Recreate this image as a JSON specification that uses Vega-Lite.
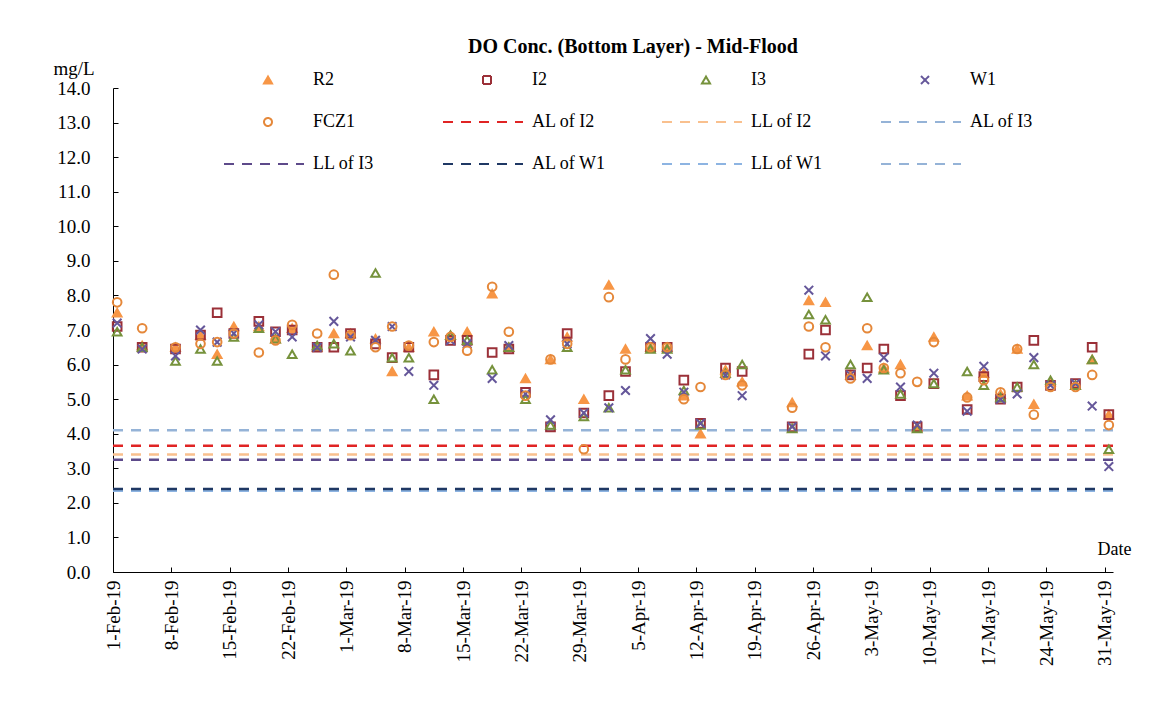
{
  "$schema": "https://vega.github.io/schema/vega-lite/v6.json",
  "width": 1000,
  "height": 484,
  "autosize": {"type": "none"},
  "padding": {"left": 113, "top": 88, "right": 44, "bottom": 154},
  "background": "white",
  "title": {"text": "DO Conc. (Bottom Layer) - Mid-Flood", "font": "Liberation Serif", "fontSize": 20, "fontWeight": "bold", "color": "black", "anchor": "middle", "dx": 20, "dy": 2},
  "config": {
    "view": {"stroke": null},
    "font": "Liberation Serif",
    "legend": {
      "orient": "none", "legendX": 146, "legendY": -17, "columns": 4, "direction": "horizontal", "gridAlign": "all",
      "symbolSize": 64, "symbolStrokeWidth": 2, "labelOffset": 36, "rowPadding": 24, "columnPadding": 52,
      "labelFont": "Liberation Serif", "labelFontSize": 18, "labelColor": "black", "labelLimit": 200
    },
    "axisY": {"values": [0,1,2,3,4,5,6,7,8,9,10,11,12,13,14], "format": ".1f", "grid": false, "labelOverlap": false,
      "domainColor": "black", "tickColor": "black", "tickSize": -5, "labelPadding": 28,
      "labelFont": "Liberation Serif", "labelFontSize": 19, "labelColor": "black",
      "titleAngle": 0, "titleAlign": "left", "titleBaseline": "alphabetic",
      "titleX": -60, "titleY": -14, "titleFont": "Liberation Serif", "titleFontSize": 19, "titleFontWeight": "normal", "titleColor": "black"}
  },
  "datasets": {
    "points": [
      {"date": "2019-02-01", "R2": 7.5, "I2": 7.1, "I3": 6.95, "W1": 7.2, "FCZ1": 7.8},
      {"date": "2019-02-04", "R2": 6.55, "I2": 6.5, "I3": 6.5, "W1": 6.45, "FCZ1": 7.05},
      {"date": "2019-02-08", "R2": 6.5, "I2": 6.45, "I3": 6.1, "W1": 6.25, "FCZ1": 6.5},
      {"date": "2019-02-11", "R2": 6.85, "I2": 6.85, "I3": 6.45, "W1": 7.0, "FCZ1": 6.6},
      {"date": "2019-02-13", "R2": 6.3, "I2": 7.5, "I3": 6.1, "W1": 6.65, "FCZ1": 6.65},
      {"date": "2019-02-15", "R2": 7.1, "I2": 6.9, "I3": 6.8, "W1": 6.9, "FCZ1": 6.9},
      {"date": "2019-02-18", "R2": 7.1, "I2": 7.25, "I3": 7.05, "W1": 7.15, "FCZ1": 6.35},
      {"date": "2019-02-20", "R2": 6.75, "I2": 6.95, "I3": 6.75, "W1": 6.95, "FCZ1": 6.7},
      {"date": "2019-02-22", "R2": 7.05, "I2": 7.0, "I3": 6.3, "W1": 6.8, "FCZ1": 7.15},
      {"date": "2019-02-25", "R2": 6.5, "I2": 6.5, "I3": 6.55, "W1": 6.5, "FCZ1": 6.9},
      {"date": "2019-02-27", "R2": 6.9, "I2": 6.5, "I3": 6.6, "W1": 7.25, "FCZ1": 8.6},
      {"date": "2019-03-01", "R2": 6.9, "I2": 6.9, "I3": 6.4, "W1": 6.8, "FCZ1": 6.85},
      {"date": "2019-03-04", "R2": 6.75, "I2": 6.6, "I3": 8.65, "W1": 6.7, "FCZ1": 6.5},
      {"date": "2019-03-06", "R2": 5.8, "I2": 6.2, "I3": 6.2, "W1": 7.1, "FCZ1": 7.1},
      {"date": "2019-03-08", "R2": 6.5, "I2": 6.5, "I3": 6.2, "W1": 5.8, "FCZ1": 6.55},
      {"date": "2019-03-11", "R2": 6.95, "I2": 5.7, "I3": 5.0, "W1": 5.4, "FCZ1": 6.65},
      {"date": "2019-03-13", "R2": 6.85, "I2": 6.7, "I3": 6.85, "W1": 6.7, "FCZ1": 6.8},
      {"date": "2019-03-15", "R2": 6.95, "I2": 6.7, "I3": 6.7, "W1": 6.6, "FCZ1": 6.4},
      {"date": "2019-03-18", "R2": 8.05, "I2": 6.35, "I3": 5.85, "W1": 5.6, "FCZ1": 8.25},
      {"date": "2019-03-20", "R2": 6.5, "I2": 6.45, "I3": 6.5, "W1": 6.55, "FCZ1": 6.95},
      {"date": "2019-03-22", "R2": 5.6, "I2": 5.2, "I3": 5.0, "W1": 5.15, "FCZ1": 5.1},
      {"date": "2019-03-25", "R2": 6.15, "I2": 4.2, "I3": 4.25, "W1": 4.4, "FCZ1": 6.15},
      {"date": "2019-03-27", "R2": 6.8, "I2": 6.9, "I3": 6.5, "W1": 6.6, "FCZ1": 6.6},
      {"date": "2019-03-29", "R2": 5.0, "I2": 4.6, "I3": 4.5, "W1": 4.6, "FCZ1": 3.55},
      {"date": "2019-04-01", "R2": 8.3, "I2": 5.1, "I3": 4.75, "W1": 4.75, "FCZ1": 7.95},
      {"date": "2019-04-03", "R2": 6.45, "I2": 5.8, "I3": 5.85, "W1": 5.25, "FCZ1": 6.15},
      {"date": "2019-04-06", "R2": 6.5, "I2": 6.5, "I3": 6.45, "W1": 6.75, "FCZ1": 6.5},
      {"date": "2019-04-08", "R2": 6.5, "I2": 6.5, "I3": 6.45, "W1": 6.3, "FCZ1": 6.5},
      {"date": "2019-04-10", "R2": 5.1, "I2": 5.55, "I3": 5.25, "W1": 5.2, "FCZ1": 5.0},
      {"date": "2019-04-12", "R2": 4.0, "I2": 4.3, "I3": 4.25, "W1": 4.3, "FCZ1": 5.35},
      {"date": "2019-04-15", "R2": 5.85, "I2": 5.9, "I3": 5.75, "W1": 5.7, "FCZ1": 5.7},
      {"date": "2019-04-17", "R2": 5.5, "I2": 5.8, "I3": 6.0, "W1": 5.1, "FCZ1": 5.4},
      {"date": "2019-04-23", "R2": 4.9, "I2": 4.2, "I3": 4.15, "W1": 4.2, "FCZ1": 4.75},
      {"date": "2019-04-25", "R2": 7.85, "I2": 6.3, "I3": 7.45, "W1": 8.15, "FCZ1": 7.1},
      {"date": "2019-04-27", "R2": 7.8, "I2": 7.0, "I3": 7.3, "W1": 6.25, "FCZ1": 6.5},
      {"date": "2019-04-30", "R2": 5.7, "I2": 5.7, "I3": 6.0, "W1": 5.7, "FCZ1": 5.6},
      {"date": "2019-05-02", "R2": 6.55, "I2": 5.9, "I3": 7.95, "W1": 5.6, "FCZ1": 7.05},
      {"date": "2019-05-04", "R2": 5.9, "I2": 6.45, "I3": 5.85, "W1": 6.2, "FCZ1": 5.9},
      {"date": "2019-05-06", "R2": 6.0, "I2": 5.1, "I3": 5.15, "W1": 5.35, "FCZ1": 5.75},
      {"date": "2019-05-08", "R2": 4.2, "I2": 4.2, "I3": 4.15, "W1": 4.25, "FCZ1": 5.5},
      {"date": "2019-05-10", "R2": 6.8, "I2": 5.45, "I3": 5.45, "W1": 5.75, "FCZ1": 6.65},
      {"date": "2019-05-14", "R2": 5.1, "I2": 4.7, "I3": 5.8, "W1": 4.65, "FCZ1": 5.05},
      {"date": "2019-05-16", "R2": 5.75, "I2": 5.65, "I3": 5.4, "W1": 5.95, "FCZ1": 5.55},
      {"date": "2019-05-18", "R2": 5.15, "I2": 5.0, "I3": 5.05, "W1": 5.0, "FCZ1": 5.2},
      {"date": "2019-05-20", "R2": 6.45, "I2": 5.35, "I3": 5.35, "W1": 5.15, "FCZ1": 6.45},
      {"date": "2019-05-22", "R2": 4.85, "I2": 6.7, "I3": 6.0, "W1": 6.2, "FCZ1": 4.55},
      {"date": "2019-05-24", "R2": 5.5, "I2": 5.4, "I3": 5.55, "W1": 5.4, "FCZ1": 5.35},
      {"date": "2019-05-27", "R2": 5.4, "I2": 5.45, "I3": 5.4, "W1": 5.45, "FCZ1": 5.35},
      {"date": "2019-05-29", "R2": 6.15, "I2": 6.5, "I3": 6.15, "W1": 4.8, "FCZ1": 5.7},
      {"date": "2019-05-31", "R2": 4.55, "I2": 4.55, "I3": 3.55, "W1": 3.05, "FCZ1": 4.25}
    ],
    "limits": [
      {"series": "LL of W1", "value": 2.35},
      {"series": "AL of W1", "value": 2.4},
      {"series": "LL of I3", "value": 3.25},
      {"series": "LL of I2", "value": 3.4},
      {"series": "AL of I2", "value": 3.65},
      {"series": "AL of I3", "value": 4.1}
    ]
  },
  "layer": [
    {
      "data": {"name": "limits"},
      "mark": {"type": "rule", "strokeWidth": 2.5},
      "encoding": {
        "y": {"field": "value", "type": "quantitative", "scale": {"domain": [0, 14], "nice": false},
          "axis": {"title": "mg/L", "values": [0,1,2,3,4,5,6,7,8,9,10,11,12,13,14], "labelOverlap": false}},
        "stroke": {"field": "series", "type": "nominal", "legend": {"title": null},
          "scale": {"domain": ["R2", "I2", "I3", "W1", "FCZ1", "AL of I2", "LL of I2", "AL of I3", "LL of I3", "AL of W1", "LL of W1", " "],
            "range": ["#F79646", "#9B3038", "#76923C", "#65579A", "#E5883A", "#E02424", "#F9C08E", "#95B3D7", "#5D4A8A", "#1F3864", "#8DB4E2", "#95B3D7"]}},
        "strokeDash": {"field": "series", "type": "nominal", "legend": {"title": null},
          "scale": {"domain": ["R2", "I2", "I3", "W1", "FCZ1", "AL of I2", "LL of I2", "AL of I3", "LL of I3", "AL of W1", "LL of W1", " "],
            "range": [[1,0],[1,0],[1,0],[1,0],[1,0],[10,8],[10,8],[10,8],[10,8],[10,8],[10,8],[10,8]]}}
      }
    },
    {
      "data": {"name": "points"},
      "transform": [{"fold": ["R2", "I2", "I3", "W1", "FCZ1"], "as": ["series", "value"]}],
      "mark": {"type": "point", "size": 75, "strokeWidth": 2, "opacity": 1},
      "encoding": {
        "x": {"field": "date", "type": "temporal", "timeUnit": "utcyearmonthdate", "bandPosition": 0.5,
          "scale": {"domain": [{"year": 2019, "month": 2, "date": 1, "utc": true}, {"year": 2019, "month": 6, "date": 1, "utc": true}], "nice": false},
          "axis": {"values": [
              {"year": 2019, "month": 2, "date": 1, "utc": true}, {"year": 2019, "month": 2, "date": 8, "utc": true},
              {"year": 2019, "month": 2, "date": 15, "utc": true}, {"year": 2019, "month": 2, "date": 22, "utc": true},
              {"year": 2019, "month": 3, "date": 1, "utc": true}, {"year": 2019, "month": 3, "date": 8, "utc": true},
              {"year": 2019, "month": 3, "date": 15, "utc": true}, {"year": 2019, "month": 3, "date": 22, "utc": true},
              {"year": 2019, "month": 3, "date": 29, "utc": true}, {"year": 2019, "month": 4, "date": 5, "utc": true},
              {"year": 2019, "month": 4, "date": 12, "utc": true}, {"year": 2019, "month": 4, "date": 19, "utc": true},
              {"year": 2019, "month": 4, "date": 26, "utc": true}, {"year": 2019, "month": 5, "date": 3, "utc": true},
              {"year": 2019, "month": 5, "date": 10, "utc": true}, {"year": 2019, "month": 5, "date": 17, "utc": true},
              {"year": 2019, "month": 5, "date": 24, "utc": true}, {"year": 2019, "month": 5, "date": 31, "utc": true}],
            "labelExpr": "utcFormat(datum.value, '%-d-%b-%y')", "labelAngle": -90, "grid": false, "labelOverlap": false,
            "domainColor": "black", "tickColor": "black", "tickSize": -5, "labelPadding": 13,
            "labelFont": "Liberation Serif", "labelFontSize": 19, "labelColor": "black",
            "title": "Date", "titleAlign": "left", "titleBaseline": "alphabetic", "titleX": 984, "titleY": -18,
            "titleFont": "Liberation Serif", "titleFontSize": 18, "titleFontWeight": "normal", "titleColor": "black"}},
        "y": {"field": "value", "type": "quantitative", "axis": {"title": "mg/L", "values": [0,1,2,3,4,5,6,7,8,9,10,11,12,13,14], "labelOverlap": false}},
        "stroke": {"field": "series", "type": "nominal", "legend": {"title": null},
          "scale": {"domain": ["R2", "I2", "I3", "W1", "FCZ1", "AL of I2", "LL of I2", "AL of I3", "LL of I3", "AL of W1", "LL of W1", " "],
            "range": ["#F79646", "#9B3038", "#76923C", "#65579A", "#E5883A", "#E02424", "#F9C08E", "#95B3D7", "#5D4A8A", "#1F3864", "#8DB4E2", "#95B3D7"]}},
        "fill": {"field": "series", "type": "nominal", "legend": {"title": null},
          "scale": {"domain": ["R2", "I2", "I3", "W1", "FCZ1", "AL of I2", "LL of I2", "AL of I3", "LL of I3", "AL of W1", "LL of W1", " "],
            "range": ["#F79646", "transparent", "transparent", "transparent", "transparent", "transparent", "transparent", "transparent", "transparent", "transparent", "transparent", "transparent"]}},
        "shape": {"field": "series", "type": "nominal", "legend": {"title": null},
          "scale": {"domain": ["R2", "I2", "I3", "W1", "FCZ1", "AL of I2", "LL of I2", "AL of I3", "LL of I3", "AL of W1", "LL of W1", " "],
            "range": ["triangle-up", "square", "triangle-up", "M-1,-1L1,1M-1,1L1,-1", "circle", "M-11,0L9,0", "M-11,0L9,0", "M-11,0L9,0", "M-11,0L9,0", "M-11,0L9,0", "M-11,0L9,0", "M-11,0L9,0"]}}
      }
    }
  ]
}
